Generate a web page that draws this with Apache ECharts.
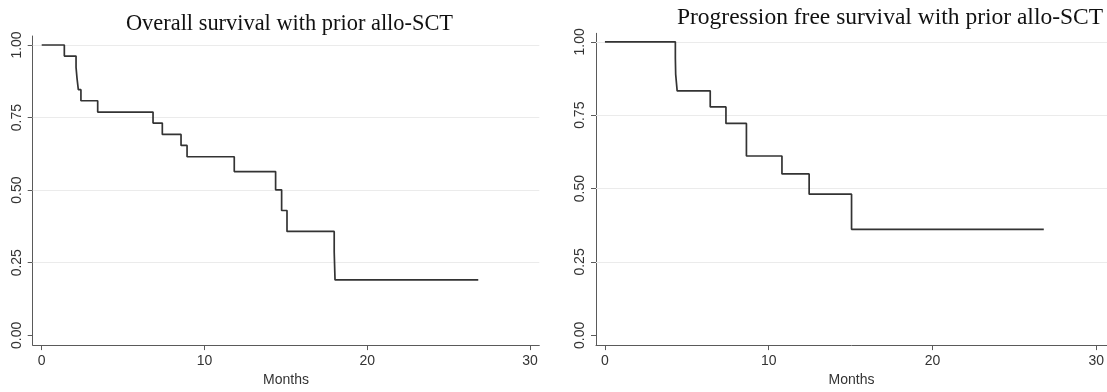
<!DOCTYPE html>
<html>
<head>
<meta charset="utf-8">
<script src="https://cdn.jsdelivr.net/npm/echarts@6/dist/echarts.min.js"></script>
<style>
html,body{margin:0;padding:0;background:#fff;}
#chart{width:1107px;height:392px;}
</style>
</head>
<body>
<div id="chart"></div>
<script>
// ---- data ----
const osTitle = 'Overall survival with prior allo-SCT';
const pfsTitle = 'Progression free survival with prior allo-SCT';
const xName = 'Months';
const osTimes = [0, 1.39, 2.11, 2.17, 2.25, 2.41, 3.44, 6.84, 7.41, 8.56, 8.93, 11.83, 14.37, 14.74, 15.07, 17.97, 18.02, 26.82];
const osSurv  = [1, 0.962, 0.923, 0.885, 0.846, 0.808, 0.769, 0.731, 0.692, 0.654, 0.615, 0.564, 0.501, 0.430, 0.358, 0.287, 0.191, 0.191];
const pfsTimes = [0, 4.30, 4.32, 4.41, 6.43, 7.39, 8.64, 10.81, 12.47, 15.06, 26.8];
const pfsSurv  = [1, 0.944, 0.889, 0.833, 0.778, 0.722, 0.611, 0.550, 0.481, 0.361, 0.361];
const xTicks = [0, 10, 20, 30];
const yTicks = [0, 0.25, 0.5, 0.75, 1];
const gridValues = [0.25, 0.5, 0.75, 1];

const chart = echarts.init(document.getElementById('chart'), null, {renderer: 'canvas'});

const axisColor = '#5a5a5a';
const labelFont = {fontFamily: 'Liberation Sans, Arial, sans-serif', fontSize: 14, color: '#333'};

function xAxisCfg(idx, min, max) {
  return {
    type: 'value', gridIndex: idx, min: min, max: max,
    name: xName, nameLocation: 'middle', nameGap: 24,
    nameTextStyle: Object.assign({}, labelFont),
    axisLine: {show: true, onZero: false, lineStyle: {color: axisColor, width: 1}},
    axisTick: {show: true, length: 5, customValues: xTicks, lineStyle: {color: axisColor}},
    axisLabel: Object.assign({show: true, margin: 9, customValues: xTicks, formatter: v => String(v)}, labelFont),
    splitLine: {show: false}
  };
}
function yAxisCfg(idx, min, max) {
  return {
    type: 'value', gridIndex: idx, min: min, max: max,
    axisLine: {show: true, onZero: false, lineStyle: {color: axisColor, width: 1}},
    axisTick: {show: true, length: 5, customValues: yTicks, lineStyle: {color: axisColor}},
    axisLabel: Object.assign({show: true, margin: 9, rotate: 90, customValues: yTicks, formatter: v => v.toFixed(2)}, labelFont),
    splitLine: {show: false}
  };
}
function kmSeries(idx, times, surv) {
  return {
    type: 'line', xAxisIndex: idx, yAxisIndex: idx, step: 'end', z: 10,
    showSymbol: false, symbol: 'none',
    lineStyle: {color: '#333333', width: 1.7},
    data: times.map((t, i) => [t, surv[i]])
  };
}
function gridSeries(idx) {
  return {
    type: 'line', xAxisIndex: idx, yAxisIndex: idx, z: 1, data: [],
    markLine: {
      z: 1,
      silent: true, symbol: ['none', 'none'], animation: false,
      label: {show: false},
      lineStyle: {color: '#ebebeb', width: 1, type: 'solid'},
      data: gridValues.map(v => ({yAxis: v}))
    }
  };
}

chart.setOption({
  animation: false,
  backgroundColor: '#ffffff',
  title: [
    {text: osTitle, left: 284.5, top: 8, textAlign: 'center',
     textStyle: {fontFamily: 'Liberation Serif, Times New Roman, serif', fontSize: 22.4, fontWeight: 'normal', color: '#111'}},
    {text: pfsTitle, left: 885, top: 1, textAlign: 'center',
     textStyle: {fontFamily: 'Liberation Serif, Times New Roman, serif', fontSize: 23.5, fontWeight: 'normal', color: '#111'}}
  ],
  grid: [
    {left: 32.7, top: 36, width: 506.6, height: 316},
    {left: 596, top: 33.3, width: 514, height: 318.7}
  ],
  xAxis: [xAxisCfg(0, -0.553, 30.57), xAxisCfg(1, -0.546, 30.66)],
  yAxis: [yAxisCfg(0, -0.0337, 1.031), yAxisCfg(1, -0.0333, 1.029)],
  series: [gridSeries(0), gridSeries(1), kmSeries(0, osTimes, osSurv), kmSeries(1, pfsTimes, pfsSurv)]
});
</script>
</body>
</html>
